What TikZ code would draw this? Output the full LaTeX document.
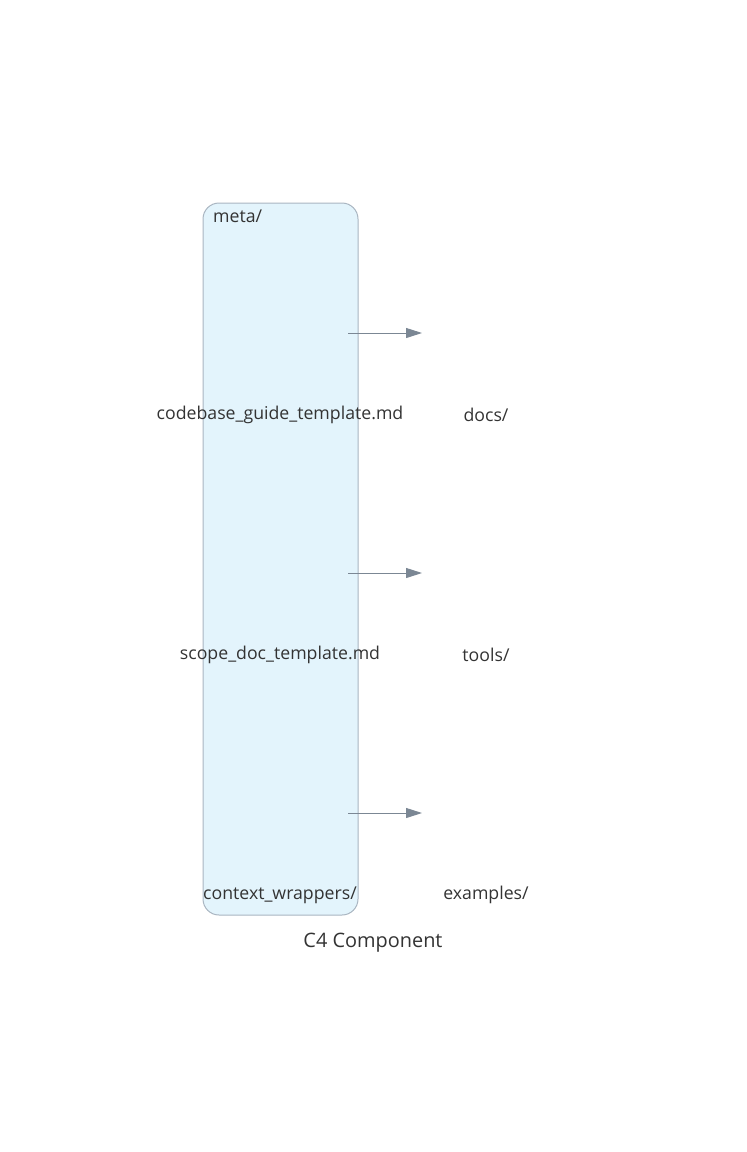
\documentclass[tikz,border=0pt]{standalone}
\usepackage{fontspec}
\setmainfont{Open Sans}
\usetikzlibrary{arrows.meta}
\definecolor{boxfill}{HTML}{E3F4FC}
\definecolor{boxline}{HTML}{A9B5C1}
\definecolor{arrowc}{HTML}{7B8794}
\definecolor{txt}{HTML}{333333}
\begin{document}
\begin{tikzpicture}[x=1pt,y=-1pt,
  lbl/.style={inner sep=0pt,text=txt,font=\fontsize{17.7}{21}\selectfont,anchor=center},
  rel/.style={draw=arrowc,line width=1pt,-{Triangle[length=16pt,width=10pt]}}]
\useasboundingbox (0,0) rectangle (747,1152);
\draw[fill=boxfill,draw=boxline,line width=1pt,rounded corners=16pt] (203,203) rectangle (358,915);
\node[lbl,anchor=west] (meta) at (213,216) {meta/};
\node[lbl] (cg) at (280,415) {codebase\_guide\_template.md};
\node[lbl] (sd) at (280,655) {scope\_doc\_template.md};
\node[lbl] (cw) at (280,895) {context\_wrappers/};
\node[lbl] (docs) at (486,415) {docs/};
\node[lbl] (tools) at (486,655) {tools/};
\node[lbl] (ex) at (486,895) {examples/};
\node[lbl,font=\fontsize{19.9}{24}\selectfont] (title) at (373,943) {C4 Component};
\coordinate (s1) at (348,333); \coordinate (e1) at (422,333);
\coordinate (s2) at (348,573); \coordinate (e2) at (422,573);
\coordinate (s3) at (348,813); \coordinate (e3) at (422,813);
\draw[rel] (s1) -- (e1);
\draw[rel] (s2) -- (e2);
\draw[rel] (s3) -- (e3);
\end{tikzpicture}
\end{document}
